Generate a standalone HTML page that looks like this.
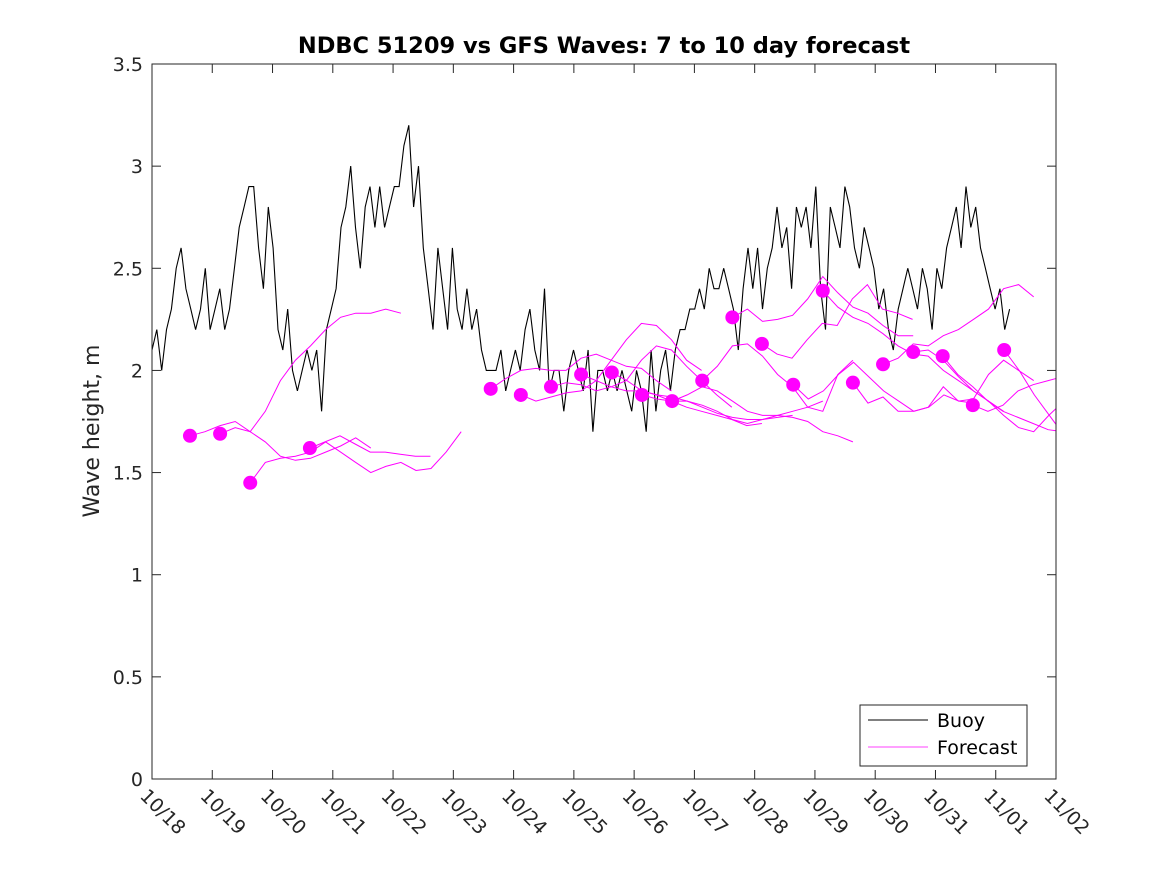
<!DOCTYPE html>
<html><head><meta charset="utf-8"><style>
body{margin:0;background:#fff;}
svg{display:block;font-family:"DejaVu Sans","Liberation Sans",sans-serif;}
</style></head><body>
<svg id="chart" width="1167" height="875" viewBox="0 0 1167 875" xmlns="http://www.w3.org/2000/svg">
<defs><clipPath id="plotclip"><rect x="152" y="64" width="904" height="715"/></clipPath></defs>
<rect x="0" y="0" width="1167" height="875" fill="#fff"/>
<text x="604" y="53" text-anchor="middle" font-weight="bold" font-size="22.5" fill="#000">NDBC 51209 vs GFS Waves: 7 to 10 day forecast</text>
<text x="99" y="431" text-anchor="middle" font-size="22" fill="#262626" transform="rotate(-90 99 431)">Wave height, m</text>
<g id="axes"></g>
<g id="series" clip-path="url(#plotclip)"></g>
<rect x="152" y="64" width="904" height="715" fill="none" stroke="#262626" stroke-width="1"/>
<g>
<rect x="860" y="705" width="167" height="61" fill="#fff" stroke="#262626" stroke-width="1"/>
<line x1="868" y1="720" x2="928" y2="720" stroke="#000" stroke-width="1"/>
<text x="937" y="727" font-size="19" fill="#000">Buoy</text>
<line x1="868" y1="747" x2="928" y2="747" stroke="#ff00ff" stroke-width="0.7"/>
<text x="937" y="754" font-size="19" fill="#000">Forecast</text>
</g>
</svg>
<script>
const xTickLabels=["10/18","10/19","10/20","10/21","10/22","10/23","10/24","10/25","10/26","10/27","10/28","10/29","10/30","10/31","11/01","11/02"];
const yTicks=[0,0.5,1,1.5,2,2.5,3,3.5];
const yTickLabels=["0","0.5","1","1.5","2","2.5","3","3.5"];
const buoyStart=0, buoyEnd=14.23;
const buoyValues=[2.1,2.2,2.0,2.2,2.3,2.5,2.6,2.4,2.3,2.2,2.3,2.5,2.2,2.3,2.4,2.2,2.3,2.5,2.7,2.8,2.9,2.9,2.6,2.4,2.8,2.6,2.2,2.1,2.3,2.0,1.9,2.0,2.1,2.0,2.1,1.8,2.2,2.3,2.4,2.7,2.8,3.0,2.7,2.5,2.8,2.9,2.7,2.9,2.7,2.8,2.9,2.9,3.1,3.2,2.8,3.0,2.6,2.4,2.2,2.6,2.4,2.2,2.6,2.3,2.2,2.4,2.2,2.3,2.1,2.0,2.0,2.0,2.1,1.9,2.0,2.1,2.0,2.2,2.3,2.1,2.0,2.4,1.9,2.0,2.0,1.8,2.0,2.1,2.0,1.9,2.1,1.7,2.0,2.0,1.9,2.0,1.9,2.0,1.9,1.8,2.0,1.9,1.7,2.1,1.8,2.0,2.1,1.9,2.1,2.2,2.2,2.3,2.3,2.4,2.3,2.5,2.4,2.4,2.5,2.4,2.3,2.1,2.4,2.6,2.4,2.6,2.3,2.5,2.6,2.8,2.6,2.7,2.4,2.8,2.7,2.8,2.6,2.9,2.4,2.2,2.8,2.7,2.6,2.9,2.8,2.6,2.5,2.7,2.6,2.5,2.3,2.4,2.2,2.1,2.3,2.4,2.5,2.4,2.3,2.5,2.4,2.2,2.5,2.4,2.6,2.7,2.8,2.6,2.9,2.7,2.8,2.6,2.5,2.4,2.3,2.4,2.2,2.3];
const fcStep=0.25;
const fcStarts=[0.63,1.13,1.63,2.62,5.62,6.12,6.62,7.12,7.63,8.13,8.63,9.13,9.63,10.12,10.64,11.13,11.63,12.13,12.63,13.12,13.62,14.14];
const fc1=[1.68,1.70,1.73,1.75,1.70,1.65,1.58,1.56,1.57,1.60,1.63,1.67,1.62];
const fc2=[1.69,1.72,1.70,1.80,1.95,2.05,2.12,2.20,2.26,2.28,2.28,2.30,2.28];
const fc3=[1.45,1.55,1.57,1.58,1.60,1.65,1.60,1.55,1.50,1.53,1.55,1.51,1.52,1.60,1.70];
const fc4=[1.62,1.65,1.68,1.64,1.60,1.60,1.59,1.58,1.58];
const fc5=[1.91,1.96,2.00,2.01,2.00,2.00,2.06,2.08,2.05,2.02,2.01,1.95,1.90];
const fc6=[1.88,1.85,1.87,1.89,1.90,1.95,2.05,2.15,2.23,2.22,2.15,2.05,2.00];
const fc7=[1.92,1.94,1.93,1.90,1.92,1.95,2.05,2.12,2.10,2.02,1.95,1.88,1.82];
const fc8=[1.98,1.95,1.92,1.90,1.90,1.88,1.85,1.82,1.80,1.78,1.76,1.73,1.74];
const fc9=[1.99,1.95,1.90,1.88,1.87,1.85,1.82,1.79,1.77,1.76,1.76,1.77,1.78];
const fc10=[1.88,1.86,1.85,1.85,1.83,1.80,1.76,1.74,1.76,1.78,1.80,1.82,1.85];
const fc11=[1.85,1.88,1.92,1.90,1.85,1.80,1.78,1.78,1.77,1.75,1.70,1.68,1.65];
const fc12=[1.95,2.02,2.12,2.13,2.07,1.98,1.92,1.82,1.80,1.98,2.05];
const fc13=[2.26,2.30,2.24,2.25,2.27,2.35,2.46,2.38,2.31,2.28,2.22,2.17,2.17];
const fc14=[2.13,2.08,2.06,2.15,2.23,2.22,2.35,2.42,2.30,2.28,2.25];
const fc15=[1.93,1.86,1.90,1.98,2.04,1.97,1.90,1.85,1.80,1.82,1.88,1.85,1.84];
const fc16=[2.39,2.31,2.26,2.23,2.18,2.12,2.08,2.07,2.00,1.95,1.90,1.85,1.80];
const fc17=[1.94,1.84,1.87,1.80,1.80,1.82,1.92,1.85,1.86,1.98,2.05,2.00,1.95];
const fc18=[2.03,2.06,2.13,2.12,2.17,2.20,2.25,2.30,2.40,2.42,2.36];
const fc19=[2.09,2.10,2.05,1.97,1.90,1.85,1.78,1.72,1.70,1.78,1.85,1.95,2.05,2.20,2.30];
const fc20=[2.07,1.98,1.92,1.85,1.80,1.77,1.74,1.71,1.70];
const fc21=[1.83,1.80,1.83,1.90,1.93,1.95,1.97,1.92,1.90,1.93];
const fc22=[2.10,2.00,1.88,1.78,1.68];
const fcSeries=[fc1,fc2,fc3,fc4,fc5,fc6,fc7,fc8,fc9,fc10,fc11,fc12,fc13,fc14,fc15,fc16,fc17,fc18,fc19,fc20,fc21,fc22];

const NS="http://www.w3.org/2000/svg";
const X0=152,X1=1056,Y0=779,Y1=64,DAYS=15,YMAX=3.5;
function xs(d){return X0+(X1-X0)*d/DAYS;}
function ys(v){return Y0-(Y0-Y1)*v/YMAX;}
const axes=document.getElementById('axes');
const series=document.getElementById('series');
function mk(tag,attrs,parent){const e=document.createElementNS(NS,tag);for(const k in attrs)e.setAttribute(k,attrs[k]);parent.appendChild(e);return e;}

yTicks.forEach((v,i)=>{
  const y=ys(v);
  const t1=mk('line',{x1:X0,y1:y,x2:X0+9,y2:y,stroke:'#262626'},axes);
  
  
  const t2=mk('line',{x1:X1,y1:y,x2:X1-9,y2:y,stroke:'#262626'},axes);
  
  
  const tx=mk('text',{x:X0-9,y:y+7,'text-anchor':'end','font-size':'19',fill:'#262626'},axes);
  tx.textContent=yTickLabels[i];
  
  
});
xTickLabels.forEach((lab,i)=>{
  const x=xs(i);
  const t1=mk('line',{x1:x,y1:Y0,x2:x,y2:Y0-9,stroke:'#262626'},axes);
  
  
  const t2=mk('line',{x1:x,y1:Y1,x2:x,y2:Y1+9,stroke:'#262626'},axes);
  
  
  const tx=mk('text',{x:x-13,y:Y0+18,'font-size':'19',fill:'#262626',transform:`rotate(45 ${x-13} ${Y0+18})`},axes);
  tx.textContent=lab;
  
  
});

const bstep=(buoyEnd-buoyStart)/(buoyValues.length-1);
const bp=buoyValues.map((v,i)=>`${xs(buoyStart+i*bstep).toFixed(1)},${ys(v).toFixed(1)}`).join(' ');
const bl=mk('polyline',{points:bp,fill:'none',stroke:'#000','stroke-width':'1.1'},series);



fcSeries.forEach((arr,k)=>{
  const s=fcStarts[k];
  const pts=arr.map((v,i)=>`${xs(s+i*fcStep).toFixed(1)},${ys(v).toFixed(1)}`).join(' ');
  const pl=mk('polyline',{points:pts,fill:'none',stroke:'#ff00ff','stroke-width':'1'},series);
  
  
});
fcSeries.forEach((arr,k)=>{
  const c=mk('circle',{cx:xs(fcStarts[k]),cy:ys(arr[0]),r:7,fill:'#ff00ff'},series);
  
  
});
</script>
</body></html>
